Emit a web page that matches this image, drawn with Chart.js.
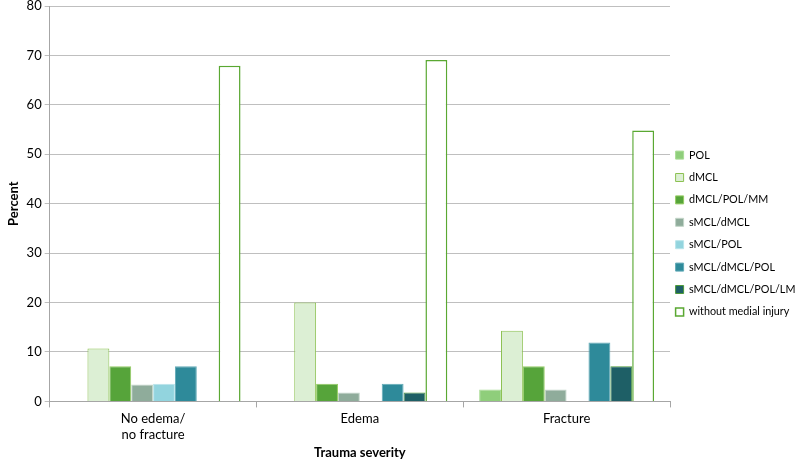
<!DOCTYPE html>
<html>
<head>
<meta charset="utf-8">
<script src="https://cdn.jsdelivr.net/npm/chart.js@4.4.1/dist/chart.umd.min.js"></script>
<style>
  html, body { margin: 0; padding: 0; background: #fff; }
  #wrap { width: 797px; height: 459px; }
</style>
</head>
<body>
<div id="wrap"><canvas id="trauma"></canvas></div>
<script>
var categories = [["No edema/", "no fracture"], "Edema", "Fracture"]
var seriesNames = ["POL", "dMCL", "dMCL/POL/MM", "sMCL/dMCL", "sMCL/POL", "sMCL/dMCL/POL", "sMCL/dMCL/POL/LM", "without medial injury"]

var pol = [0, 0, 2.4]
var dmcl = [10.7, 20.0, 14.3]
var dmclPolMm = [7.1, 3.6, 7.1]
var smclDmcl = [3.4, 1.8, 2.4]
var smclPol = [3.6, 0, 0]
var smclDmclPol = [7.1, 3.6, 11.9]
var smclDmclPolLm = [0, 1.8, 7.1]
var withoutMedial = [67.9, 69.1, 54.8]

var yTicks = [0, 10, 20, 30, 40, 50, 60, 70, 80]

var fills = ["#8fce7b", "#dcefd4", "#56a43a", "#8fac9b", "#92d4de", "#2e8a9a", "#1e5f66", "#ffffff"]
var borders = ["#a9dc95", "#8cc152", "#95cc63", "#c3d6c9", "#b9e4ea", "#62aab7", "#4e9a3a", "#5aa832"]

var values = [pol, dmcl, dmclPolMm, smclDmcl, smclPol, smclDmclPol, smclDmclPolLm, withoutMedial]

var font = "Lato, 'Noto Sans', sans-serif"

// legend column is fixed at 127px like the original, items nudged left/down a bit
var legendWidth = {
  id: "legendWidth",
  afterInit(chart) {
    var lg = chart.legend
    var fit = lg.fit.bind(lg)
    lg.fit = function() { fit(); this.width = 127 }
  },
  afterLayout(chart) {
    chart.legend.left -= 6
    chart.legend.top += 3
    chart.legend.bottom += 3
  }
}

new Chart("trauma", {
  type: "bar",
  data: {
    labels: categories,
    datasets: values.map((v, i) => ({
      label: seriesNames[i],
      data: v,
      backgroundColor: fills[i],
      borderColor: borders[i],
      borderWidth: i == 7 ? 1.5 : 1,
      barPercentage: 1,
      categoryPercentage: 0.846
    }))
  },
  plugins: [legendWidth],
  options: {
    responsive: true,
    maintainAspectRatio: false,
    animation: false,
    layout: {padding: {top: 0, bottom: -2, left: 2, right: 0}},
    plugins: {
      tooltip: {enabled: false},
      legend: {
        position: "right",
        labels: {
          boxWidth: 8,
          boxHeight: 8,
          padding: 11.6,
          color: "#000",
          font: {family: font, size: 10.8}
        }
      }
    },
    scales: {
      x: {
        grid: {display: true, drawOnChartArea: false, tickLength: 6, color: "#a6a6a6"},
        border: {color: "#a6a6a6"},
        ticks: {color: "#000", font: {family: font, size: 13, lineHeight: 1.23}, padding: 3},
        title: {display: true, text: "Trauma severity", color: "#000", font: {family: font, size: 13, weight: "bold"}, padding: {top: 0, bottom: 0}}
      },
      y: {
        min: 0,
        max: 80,
        afterBuildTicks: axis => { axis.ticks = yTicks.map(v => ({value: v})) },
        afterFit: axis => { axis.paddingTop = 6 },
        grid: {color: "#bfbfbf", tickLength: 5},
        border: {color: "#a6a6a6"},
        ticks: {color: "#000", font: {family: font, size: 13}, padding: 3},
        title: {display: true, text: "Percent", color: "#000", font: {family: font, size: 13, weight: "bold"}, padding: {bottom: 2}}
      }
    }
  }
})
</script>
</body>
</html>
